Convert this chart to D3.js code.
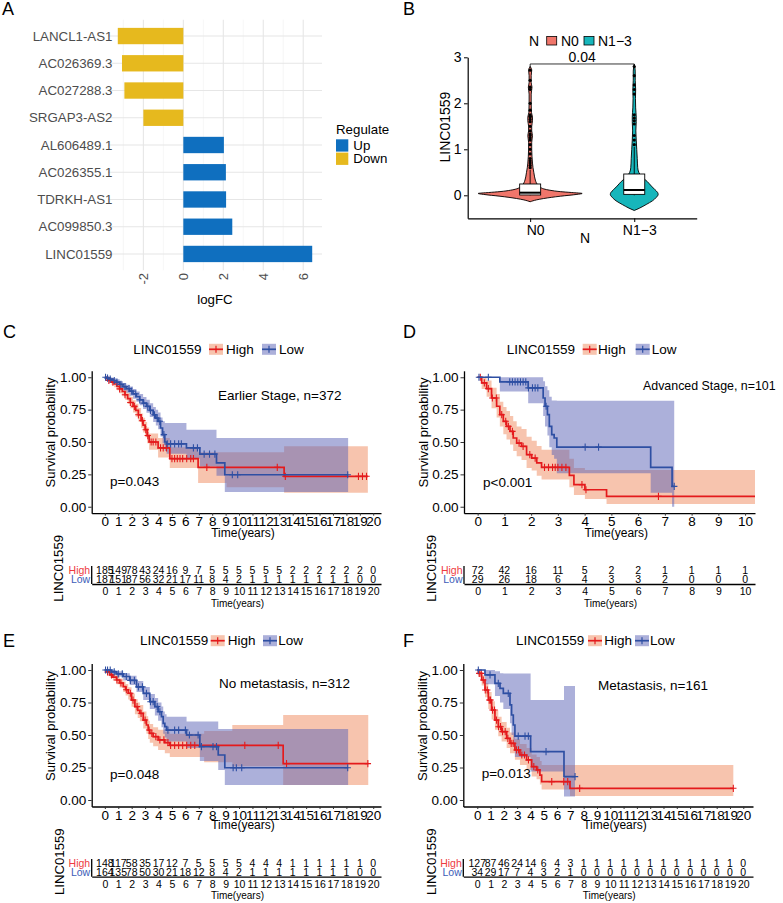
<!DOCTYPE html>
<html><head><meta charset="utf-8">
<script src="https://cdn.jsdelivr.net/npm/d3@7/dist/d3.min.js"></script>
<style>
html,body{margin:0;padding:0;background:#fff;}
svg text{font-family:"Liberation Sans",Arial,Helvetica,sans-serif;}
</style></head><body>
<svg id="fig" width="783" height="903" xmlns="http://www.w3.org/2000/svg"></svg>
<script>
// ================= DATA =================
// Panel A
const genes = ["LANCL1-AS1","AC026369.3","AC027288.3","SRGAP3-AS2","AL606489.1","AC026355.1","TDRKH-AS1","AC099850.3","LINC01559"];
const logFC = [-3.28,-3.07,-2.95,-2.0,2.03,2.13,2.14,2.45,6.45];
const regulate = ["Down","Down","Down","Down","Up","Up","Up","Up","Up"];
const logFCTicks = [-2,0,2,4,6];
const logFCMinor = [-3,-1,1,3,5];

// Panel B : [value, relative density]
const nGroups = ["N0","N1\u22123"];
const violinN0 = [[-0.14,0],[-0.1,0.12],[-0.07,0.26],[-0.02,0.58],[0.02,0.9],[0.04,1.0],[0.06,0.8],[0.08,0.58],[0.11,0.38],[0.14,0.26],[0.18,0.19],[0.22,0.15],[0.27,0.12],[0.33,0.1],[0.4,0.085],[0.5,0.07],[0.6,0.055],[0.7,0.045],[0.85,0.035],[1.0,0.03],[1.15,0.03],[1.3,0.045],[1.4,0.03],[1.5,0.03],[1.62,0.045],[1.7,0.045],[1.8,0.025],[2.0,0.02],[2.2,0.02],[2.35,0.035],[2.45,0.02],[2.6,0.02],[2.72,0.03],[2.8,0]];
const violinN13 = [[-0.33,0],[-0.28,0.1],[-0.2,0.23],[-0.12,0.35],[-0.05,0.42],[0.02,0.46],[0.06,0.45],[0.12,0.4],[0.2,0.33],[0.3,0.25],[0.4,0.15],[0.5,0.087],[0.6,0.067],[0.8,0.058],[1.0,0.048],[1.2,0.038],[1.4,0.031],[1.6,0.038],[1.7,0.038],[1.9,0.027],[2.1,0.023],[2.3,0.027],[2.5,0.019],[2.7,0.019],[2.85,0]];
// [lowerWhisker, q1, median, q3, upperWhisker]
const boxN0 = [0, 0.007, 0.057, 0.246, 0.55];
const boxN13 = [0, 0.02, 0.115, 0.463, 1.05];
const outN0 = [0.6,0.65,0.7,0.75,0.8,0.9,1.0,1.1,1.2,1.25,1.3,1.33,1.4,1.5,1.6,1.65,1.7,1.72,1.75,1.85,2.0,2.3,2.35,2.5,2.72];
const outN13 = [1.1,1.2,1.3,1.55,1.62,1.68,1.75,2.2,2.3,2.4,2.6,2.8];
const pValueB = "0.04";

// KM curves: [time, surv, lower, upper]
const cHigh = [[0,1,1,1],[0.15,0.989,0.975,0.999],[0.3,0.976,0.958,0.993],[0.5,0.962,0.94,0.984],[0.7,0.948,0.922,0.974],[0.9,0.93,0.9,0.96],[1.1,0.91,0.877,0.943],[1.3,0.89,0.853,0.927],[1.5,0.865,0.826,0.905],[1.7,0.835,0.793,0.878],[1.9,0.805,0.76,0.85],[2.1,0.775,0.728,0.822],[2.3,0.745,0.696,0.795],[2.5,0.71,0.658,0.763],[2.7,0.665,0.61,0.72],[2.85,0.63,0.573,0.687],[3.0,0.595,0.536,0.655],[3.15,0.55,0.49,0.612],[3.3,0.5,0.44,0.565],[3.97,0.454,0.38,0.53],[4.84,0.371,0.3,0.46],[6.95,0.304,0.183,0.42],[9.07,0.304,0.15,0.42],[13.36,0.235,0.108,0.467]];
const cHighEnd = 19.6;
const cLow = [[0,1,1,1],[0.2,0.993,0.982,1],[0.4,0.985,0.97,0.998],[0.6,0.975,0.956,0.993],[0.85,0.962,0.94,0.984],[1.1,0.945,0.92,0.97],[1.35,0.928,0.9,0.956],[1.6,0.912,0.88,0.943],[1.85,0.893,0.858,0.928],[2.1,0.872,0.834,0.91],[2.35,0.85,0.81,0.89],[2.6,0.826,0.783,0.87],[2.85,0.8,0.754,0.848],[3.1,0.775,0.726,0.826],[3.35,0.745,0.693,0.8],[3.6,0.71,0.655,0.77],[3.8,0.685,0.627,0.75],[3.97,0.66,0.598,0.728],[4.15,0.608,0.543,0.69],[4.3,0.557,0.49,0.66],[4.47,0.5,0.43,0.647],[4.6,0.485,0.41,0.647],[6.08,0.454,0.37,0.595],[7.08,0.407,0.31,0.595],[8.32,0.338,0.24,0.531],[8.94,0.247,0.113,0.531]];
const cLowEnd = 18.13;
const cHighCens = [0.3,0.6,1.1,1.5,1.9,2.2,2.5,2.8,3.05,3.2,3.45,3.6,3.8,4.15,4.35,4.6,5.0,5.2,5.4,5.6,5.8,6.1,6.4,6.6,7.6,12.85,13.45,18.9,19.2,19.5];
const cLowCens = [0.05,0.2,0.4,0.7,0.9,1.2,1.5,1.8,2.0,2.3,2.6,2.9,3.2,3.4,3.7,3.9,4.1,4.4,4.65,4.9,5.2,5.5,5.7,6.6,6.9,7.4,7.8,8.2,9.5,9.9,18.1];
const cRiskHigh = [185,149,78,43,24,16,9,7,5,5,5,5,5,5,2,2,2,2,2,2,0];
const cRiskLow  = [187,151,87,56,32,21,17,11,8,4,2,1,1,1,1,1,1,1,1,0,0];

const dHigh = [[0,1,1,1],[0.15,0.956,0.91,1],[0.335,0.912,0.85,0.975],[0.52,0.84,0.76,0.92],[0.71,0.776,0.69,0.87],[0.83,0.711,0.62,0.81],[0.96,0.66,0.56,0.77],[1.08,0.621,0.52,0.74],[1.21,0.582,0.48,0.7],[1.33,0.531,0.43,0.66],[1.46,0.492,0.39,0.62],[1.64,0.466,0.36,0.6],[1.83,0.402,0.3,0.54],[2.02,0.376,0.28,0.51],[2.21,0.338,0.24,0.47],[2.39,0.304,0.21,0.44],[3.43,0.242,0.15,0.37],[3.6,0.17,0.09,0.3],[4.01,0.131,0.06,0.284],[4.82,0.08,0.021,0.284]];
const dHighEnd = 10.37;
const dLow = [[0,1,1,1],[0.83,0.964,0.89,1],[1.89,0.918,0.8,1],[2.45,0.84,0.7,0.97],[2.52,0.776,0.62,0.93],[2.61,0.711,0.55,0.9],[2.68,0.621,0.46,0.85],[2.77,0.557,0.4,0.82],[2.86,0.531,0.37,0.82],[2.96,0.461,0.258,0.819],[6.47,0.304,0.108,0.819],[7.27,0.157,0,0.819]];
const dLowEnd = 7.35;
const dHighCens = [0.1,0.25,0.4,0.55,0.7,0.9,1.05,1.15,1.3,1.55,1.7,1.95,2.15,2.5,2.65,2.8,2.9,3.0,3.15,3.3,3.9,4.05,6.76];
const dLowCens = [0.05,0.4,1.2,1.3,1.4,1.5,1.6,1.7,1.8,1.9,2.05,2.15,2.25,2.56,4.02,4.52,7.35];
const dRiskHigh = [72,42,16,11,5,2,2,1,1,1,1];
const dRiskLow  = [29,26,18,6,4,3,3,2,0,0,0];

const eHigh = [[0,1,1,1],[0.15,0.985,0.97,0.998],[0.37,0.962,0.94,0.985],[0.6,0.945,0.92,0.97],[0.87,0.923,0.89,0.955],[1.1,0.9,0.865,0.935],[1.37,0.872,0.83,0.912],[1.55,0.848,0.803,0.892],[1.74,0.821,0.773,0.868],[1.99,0.769,0.717,0.82],[2.24,0.718,0.66,0.775],[2.45,0.69,0.63,0.75],[2.61,0.667,0.605,0.73],[2.86,0.615,0.55,0.68],[3.1,0.577,0.51,0.645],[3.23,0.538,0.47,0.61],[3.35,0.513,0.44,0.585],[3.6,0.487,0.413,0.56],[3.97,0.462,0.385,0.54],[4.47,0.441,0.36,0.525],[4.84,0.42,0.33,0.51],[7.4,0.42,0.29,0.53],[9.5,0.42,0.26,0.577],[13.29,0.28,0.115,0.654]];
const eHighEnd = 19.63;
const eLow = [[0,1,1,1],[0.5,0.985,0.97,1],[0.87,0.97,0.95,0.99],[1.37,0.95,0.92,0.975],[1.86,0.92,0.885,0.955],[2.36,0.87,0.83,0.915],[2.86,0.82,0.77,0.87],[3.35,0.756,0.7,0.815],[3.73,0.718,0.65,0.785],[3.97,0.679,0.61,0.75],[4.22,0.641,0.56,0.72],[4.35,0.59,0.51,0.68],[4.47,0.564,0.48,0.66],[4.6,0.538,0.45,0.64],[6.09,0.5,0.4,0.603],[7.08,0.41,0.3,0.603],[8.45,0.346,0.23,0.546],[8.94,0.248,0.115,0.546]];
const eLowEnd = 18.13;
const eHighCens = [0.2,0.5,0.9,1.2,1.6,1.9,2.1,2.4,2.7,3.0,3.3,3.5,3.8,4.1,4.4,4.7,4.9,5.2,5.5,5.8,6.1,6.4,6.7,10.43,12.92,13.54,19.6];
const eLowCens = [0.05,0.2,0.4,0.7,1.0,1.3,1.6,1.9,2.2,2.5,2.8,3.1,3.4,3.6,3.9,4.1,4.7,5.2,5.5,6.0,6.3,6.95,7.2,8.06,8.32,9.56,9.8,10.2,18.1];
const eRiskHigh = [148,117,58,35,17,12,7,5,5,5,5,4,4,4,1,1,1,1,1,1,0];
const eRiskLow  = [164,135,78,50,30,21,18,12,8,4,2,1,1,1,1,1,1,1,1,0,0];

const fHigh = [[0,1,1,1],[0.08,0.974,0.95,1],[0.33,0.923,0.88,0.96],[0.58,0.846,0.79,0.9],[0.83,0.769,0.7,0.83],[1.08,0.692,0.62,0.76],[1.33,0.615,0.54,0.69],[1.58,0.564,0.49,0.64],[1.83,0.526,0.45,0.6],[2.21,0.474,0.4,0.555],[2.46,0.436,0.36,0.52],[2.83,0.385,0.31,0.47],[3.21,0.346,0.27,0.43],[3.71,0.308,0.23,0.4],[4.09,0.256,0.18,0.35],[4.46,0.231,0.16,0.33],[4.71,0.192,0.12,0.3],[4.84,0.141,0.08,0.27],[6.97,0.09,0.03,0.27]];
const fHighEnd = 19.25;
const fLow = [[0,1,1,1],[0.58,0.962,0.89,1],[1.33,0.897,0.8,0.99],[1.71,0.859,0.75,0.975],[1.96,0.82,0.7,0.974],[2.46,0.731,0.59,0.974],[2.58,0.654,0.5,0.974],[2.71,0.577,0.42,0.974],[2.83,0.492,0.33,0.974],[4.01,0.372,0.22,0.77],[6.52,0.18,0.026,0.877]];
const fLowEnd = 7.35;
const fHighCens = [0.15,0.3,0.45,0.6,0.75,0.9,1.0,1.15,1.3,1.45,1.6,1.75,1.9,2.1,2.3,2.55,2.7,2.95,3.1,3.35,3.55,3.85,4.25,4.55,5.6,6.5,6.8,7.7,19.25];
const fLowCens = [0.08,0.96,1.58,2.33,3.08,3.59,3.84,5.17,7.35];
const fRiskHigh = [127,87,46,24,14,6,4,3,1,1,1,1,1,1,1,1,1,1,1,1,0];
const fRiskLow  = [34,29,17,7,4,3,2,1,0,0,0,0,0,0,0,0,0,0,0,0,0];

const survTicks = [0,0.25,0.5,0.75,1];

// ================= STYLE =================
const RED = "#E41A1C", BLUE = "#2E4FA3";
const BAND_RED = "#F08A5E", BAND_BLUE = "#5A62B5", BAND_OP = 0.5;
const TABLE_RED = "#EE3B3F", TABLE_BLUE = "#3D5DB8";
const regColor = {"Up":"#0F6FBF","Down":"#E6B91E"};

const svg = d3.select("#fig");
function addText(sel, x, y, str, o = {}) {
  const t = sel.append("text").attr("x", x).attr("y", y).text(str)
    .attr("font-size", o.size || 13).attr("fill", o.fill || "#000")
    .attr("text-anchor", o.anchor || "start");
  if (o.rotate) t.attr("transform", `rotate(${o.rotate},${x},${y})`);
  if (o.dy) t.attr("dy", o.dy);
  return t;
}

// panel letters
[["A",2,15],["B",403,15],["C",3,338],["D",403,338],["E",3,646.5],["F",403,646.5]]
  .forEach(([l,x,y]) => addText(svg, x, y, l, {size:18}));

// ================= PANEL A =================
{
  const g = svg.append("g");
  const x = d3.scaleLinear().domain([-3.77, 6.94]).range([108, 322]);
  const y = d3.scalePoint().domain(genes).range([19.7, 270.3]).padding(0.6);
  const step = y.step();
  const [top, bot] = [19.7, 270.3];
  g.selectAll(".gmin").data(logFCMinor).join("line")
    .attr("x1", d => x(d)).attr("x2", d => x(d)).attr("y1", top).attr("y2", bot)
    .attr("stroke", "#F0F0F0").attr("stroke-width", 0.6);
  g.selectAll(".gmaj").data(logFCTicks).join("line")
    .attr("x1", d => x(d)).attr("x2", d => x(d)).attr("y1", top).attr("y2", bot)
    .attr("stroke", "#E6E6E6").attr("stroke-width", 1.1);
  g.selectAll(".gh").data(genes).join("line")
    .attr("x1", x.range()[0]).attr("x2", x.range()[1]).attr("y1", d => y(d)).attr("y2", d => y(d))
    .attr("stroke", "#E6E6E6").attr("stroke-width", 1.1);
  const rows = genes.map((gn, i) => ({gn, v: logFC[i], r: regulate[i]}));
  g.selectAll("rect.bar").data(rows).join("rect")
    .attr("x", d => x(Math.min(0, d.v))).attr("width", d => Math.abs(x(d.v) - x(0)))
    .attr("y", d => y(d.gn) - step * 0.3).attr("height", step * 0.6)
    .attr("fill", d => regColor[d.r]);
  genes.forEach(gn => addText(g, 112.5, y(gn), gn, {size:13.3, fill:"#4D4D4D", anchor:"end", dy:"0.35em"}));
  logFCTicks.forEach(t => addText(g, x(t), 273, String(t), {size:13, fill:"#4D4D4D", anchor:"end", rotate:-90, dy:"0.35em"}));
  addText(g, (x.range()[0] + x.range()[1]) / 2, 304, "logFC", {size:13.3, anchor:"middle"});
  addText(g, 336, 134, "Regulate", {size:13.3});
  ["Up","Down"].forEach((k, i) => {
    g.append("rect").attr("x", 336).attr("y", 139.3 + i * 13.3).attr("width", 12.3).attr("height", 12.3).attr("fill", regColor[k]);
    addText(g, 353.3, 145.5 + i * 13.3, k, {size:13.3, dy:"0.35em"});
  });
}

// ================= PANEL B =================
{
  const g = svg.append("g");
  const x = d3.scalePoint().domain(nGroups).range([467.7, 696.7]).padding(0.6);
  const y = d3.scaleLinear().domain([-0.5, 3]).range([218.3, 57.3]);
  const w = d3.scaleLinear().domain([0, 1]).range([0, 52]);
  const fills = {[nGroups[0]]:"#F0766B", [nGroups[1]]:"#17B6BB"};
  const viol = {[nGroups[0]]:violinN0, [nGroups[1]]:violinN13};
  const boxes = {[nGroups[0]]:boxN0, [nGroups[1]]:boxN13};
  const outs = {[nGroups[0]]:outN0, [nGroups[1]]:outN13};
  nGroups.forEach(gr => {
    const cx = x(gr);
    const area = d3.area().curve(d3.curveMonotoneY)
      .y(d => y(d[0])).x0(d => cx - w(d[1])).x1(d => cx + w(d[1]));
    g.append("path").attr("d", area(viol[gr])).attr("fill", fills[gr]).attr("stroke", "#000").attr("stroke-width", 0.9);
    const b = boxes[gr];
    g.append("line").attr("x1", cx).attr("x2", cx).attr("y1", y(b[3])).attr("y2", y(b[4])).attr("stroke", "#000").attr("stroke-width", 0.9);
    g.append("line").attr("x1", cx).attr("x2", cx).attr("y1", y(b[0])).attr("y2", y(b[1])).attr("stroke", "#000").attr("stroke-width", 0.9);
    outs[gr].forEach(v => g.append("circle").attr("cx", cx).attr("cy", y(v)).attr("r", 1.6).attr("fill", "#000"));
    g.append("rect").attr("x", cx - 10.5).attr("width", 21).attr("y", y(b[3])).attr("height", y(b[1]) - y(b[3]))
      .attr("fill", "#fff").attr("stroke", "#000").attr("stroke-width", 0.9);
    g.append("line").attr("x1", cx - 10.5).attr("x2", cx + 10.5).attr("y1", y(b[2])).attr("y2", y(b[2])).attr("stroke", "#000").attr("stroke-width", 2);
  });
  // bracket
  const by = y(2.855);
  g.append("path").attr("d", `M${x(nGroups[0])},${by + 4}V${by}H${x(nGroups[1])}V${by + 4}`)
    .attr("fill", "none").attr("stroke", "#000").attr("stroke-width", 0.8);
  addText(g, (x(nGroups[0]) + x(nGroups[1])) / 2, by - 1.5, pValueB, {size:14, anchor:"middle"});
  // axes
  const ay = g.append("g").attr("transform", "translate(467.7,0)")
    .call(d3.axisLeft(y).tickValues([0,1,2,3]).tickFormat(d3.format("d")).tickSize(3.7).tickSizeOuter(0).tickPadding(2.5));
  const ax = g.append("g").attr("transform", "translate(0,218.3)")
    .call(d3.axisBottom(x).tickSize(3.7).tickSizeOuter(0).tickPadding(3));
  [ay, ax].forEach(a => {
    a.select(".domain").attr("stroke", "#000").attr("stroke-width", 1.2);
    a.selectAll(".tick line").attr("stroke", "#000");
    a.selectAll("text").attr("font-size", 14).attr("fill", "#000");
  });
  ax.selectAll("text").attr("dx", 5);
  addText(g, 450, 127, "LINC01559", {size:14, anchor:"middle", rotate:-90});
  addText(g, 585, 243, "N", {size:14, anchor:"middle"});
  // legend
  addText(g, 529, 46, "N", {size:14});
  g.append("rect").attr("x", 546.7).attr("y", 36.5).attr("width", 10).attr("height", 8.5).attr("fill", fills[nGroups[0]]).attr("stroke", "#000").attr("stroke-width", 0.8);
  addText(g, 561, 46, nGroups[0], {size:14});
  g.append("rect").attr("x", 584).attr("y", 36.5).attr("width", 10).attr("height", 8.5).attr("fill", fills[nGroups[1]]).attr("stroke", "#000").attr("stroke-width", 0.8);
  addText(g, 598, 46, nGroups[1], {size:14});
}

// ================= KM PANELS =================
function drawKM(P) {
  const g = svg.append("g");
  const x = d3.scaleLinear().domain(P.xdom).range(P.xr);
  const y = d3.scaleLinear().domain([-0.05, 1.05]).range(P.yr);
  const ticks = d3.range(0, P.maxT + 1);
  const groups = [
    {data:P.high, end:P.highEnd, cens:P.highCens, line:RED, band:BAND_RED},
    {data:P.low, end:P.lowEnd, cens:P.lowCens, line:BLUE, band:BAND_BLUE}];
  const cid = "clip" + P.id;
  g.append("clipPath").attr("id", cid).append("rect")
    .attr("x", P.xr[0]).attr("y", P.yr[1] - 5).attr("width", P.xr[1] - P.xr[0] + 1).attr("height", P.yr[0] - P.yr[1] + 5);
  const pg = g.append("g").attr("clip-path", `url(#${cid})`);
  groups.forEach(G => {
    const last = G.data[G.data.length - 1];
    G.pts = G.data.concat([[G.end, last[1], last[2], last[3]]]);
    pg.append("path")
      .attr("d", d3.area().curve(d3.curveStepAfter).x(d => x(d[0])).y0(d => y(d[2])).y1(d => y(d[3]))(G.pts))
      .attr("fill", G.band).attr("fill-opacity", BAND_OP);
  });
  groups.forEach(G => {
    pg.append("path")
      .attr("d", d3.line().curve(d3.curveStepAfter).x(d => x(d[0])).y(d => y(d[1]))(G.pts))
      .attr("fill", "none").attr("stroke", G.line).attr("stroke-width", 1.7);
    G.cens.forEach(t => {
      let s = G.data[0][1];
      G.data.forEach(d => { if (d[0] <= t) s = d[1]; });
      const cx = x(t), cy = y(s);
      pg.append("path").attr("d", `M${cx - 3.2},${cy}H${cx + 3.2}M${cx},${cy - 3.6}V${cy + 3.6}`)
        .attr("stroke", G.line).attr("stroke-width", 1.1);
    });
  });
  // axes
  const ay = g.append("g").attr("transform", `translate(${P.xr[0]},0)`)
    .call(d3.axisLeft(y).tickValues(survTicks).tickFormat(d3.format(".2f")).tickSize(3.5).tickSizeOuter(0).tickPadding(2));
  const ax = g.append("g").attr("transform", `translate(0,${P.yr[0]})`)
    .call(d3.axisBottom(x).tickValues(ticks).tickFormat(d3.format("d")).tickSize(2.5).tickSizeOuter(0).tickPadding(1));
  [ay, ax].forEach(a => {
    a.select(".domain").attr("stroke", "#000").attr("stroke-width", 1.3);
    a.selectAll(".tick line").attr("stroke", "#333");
    a.selectAll("text").attr("font-size", 13.5).attr("fill", "#000");
  });
  addText(g, P.ylabX, P.ylabY, "Survival probability", {size:13.1, anchor:"middle", rotate:-90});
  addText(g, P.xlabX, P.xlabY, "Time(years)", {size:12, anchor:"middle"});
  addText(g, P.annot[1], P.annot[2], P.annot[0], {size:P.annot[3] || 13.5, dy:"0.35em"});
  addText(g, P.pval[1], P.pval[2], P.pval[0], {size:13.5, dy:"0.35em"});
  // legend
  const L = P.legend;
  addText(g, L.labelX, L.y, "LINC01559", {size:13.5, dy:"0.35em"});
  [["High", L.highKey, L.highText, RED, BAND_RED], ["Low", L.lowKey, L.lowText, BLUE, BAND_BLUE]].forEach(([n, kx, tx, lc, bc]) => {
    g.append("rect").attr("x", kx).attr("y", L.y - 5.5).attr("width", 14).attr("height", 11).attr("fill", bc).attr("fill-opacity", BAND_OP);
    g.append("line").attr("x1", kx).attr("x2", kx + 14).attr("y1", L.y).attr("y2", L.y).attr("stroke", lc).attr("stroke-width", 1.7);
    g.append("line").attr("x1", kx + 7).attr("x2", kx + 7).attr("y1", L.y - 3.5).attr("y2", L.y + 3.5).attr("stroke", lc).attr("stroke-width", 1.2);
    addText(g, tx, L.y, n, {size:13.5, dy:"0.35em"});
  });
  // risk table
  const T = P.table;
  const ry = d3.scalePoint().domain(["High","Low"]).range(T.rows);
  addText(g, T.titleX, T.titleY, "LINC01559", {size:13.2, anchor:"middle", rotate:-90});
  addText(g, P.xr[0] - 1.5, ry("High"), "High", {size:10.5, anchor:"end", fill:TABLE_RED, dy:"0.35em"});
  addText(g, P.xr[0] - 1.5, ry("Low"), "Low", {size:10.5, anchor:"end", fill:TABLE_BLUE, dy:"0.35em"});
  P.riskHigh.forEach((n, i) => addText(g, x(ticks[i]), ry("High"), n, {size:10.5, anchor:"middle", dy:"0.35em"}));
  P.riskLow.forEach((n, i) => addText(g, x(ticks[i]), ry("Low"), n, {size:10.5, anchor:"middle", dy:"0.35em"}));
  const tx = g.append("g").attr("transform", `translate(0,${T.axisY})`)
    .call(d3.axisBottom(x).tickValues(ticks).tickFormat(d3.format("d")).tickSize(0).tickSizeOuter(0).tickPadding(3.5));
  tx.select(".domain").attr("stroke", "#000").attr("stroke-width", 1.3);
  tx.selectAll("text").attr("font-size", 10.5).attr("fill", "#000");
  g.append("line").attr("x1", P.xr[0]).attr("x2", P.xr[0]).attr("y1", T.top).attr("y2", T.axisY).attr("stroke", "#000").attr("stroke-width", 1.3);
  addText(g, T.xlabX, T.axisY + 22.6, "Time(years)", {size:10, anchor:"middle"});
}

drawKM({id:"C", xdom:[-0.98, 20.58], xr:[91.7, 381], yr:[513.2, 370.8], maxT:20,
  high:cHigh, highEnd:cHighEnd, highCens:cHighCens, low:cLow, lowEnd:cLowEnd, lowCens:cLowCens,
  riskHigh:cRiskHigh, riskLow:cRiskLow,
  ylabX:55, ylabY:432.5, xlabX:243, xlabY:537.3,
  annot:["Earlier Stage, n=372", 218, 395.7], pval:["p=0.043", 110, 481.7],
  legend:{y:349.3, labelX:133.3, highKey:209, highText:226, lowKey:262, lowText:279},
  table:{rows:[570, 579.3], axisY:584, top:566, titleX:63.5, titleY:568.3, xlabX:237.5}});

drawKM({id:"D", xdom:[-0.51, 10.37], xr:[464, 755], yr:[513.2, 370.8], maxT:10,
  high:dHigh, highEnd:dHighEnd, highCens:dHighCens, low:dLow, lowEnd:dLowEnd, lowCens:dLowCens,
  riskHigh:dRiskHigh, riskLow:dRiskLow,
  ylabX:428, ylabY:432.5, xlabX:616.3, xlabY:537.3,
  annot:["Advanced Stage, n=101", 643, 386, 12.4], pval:["p<0.001", 483, 482.7],
  legend:{y:349.3, labelX:506.7, highKey:582.7, highText:598, lowKey:635.7, lowText:651.7},
  table:{rows:[570, 579.3], axisY:584, top:566, titleX:436, titleY:568.3, xlabX:610.5}});

drawKM({id:"E", xdom:[-0.98, 20.58], xr:[91.7, 381], yr:[806.5, 663.5], maxT:20,
  high:eHigh, highEnd:eHighEnd, highCens:eHighCens, low:eLow, lowEnd:eLowEnd, lowCens:eLowCens,
  riskHigh:eRiskHigh, riskLow:eRiskLow,
  ylabX:55, ylabY:726, xlabX:243, xlabY:829.3,
  annot:["No metastasis, n=312", 219, 683], pval:["p=0.048", 110, 774],
  legend:{y:640.7, labelX:140, highKey:210.7, highText:227.7, lowKey:263, lowText:278.3},
  table:{rows:[863.3, 872.3], axisY:876.7, top:859, titleX:64.5, titleY:861.7, xlabX:237.5}});

drawKM({id:"F", xdom:[-1.05, 20.73], xr:[463.3, 753], yr:[806.5, 663.5], maxT:20,
  high:fHigh, highEnd:fHighEnd, highCens:fHighCens, low:fLow, lowEnd:fLowEnd, lowCens:fLowCens,
  riskHigh:fRiskHigh, riskLow:fRiskLow,
  ylabX:426.5, ylabY:726, xlabX:615, xlabY:829.3,
  annot:["Metastasis, n=161", 598, 685.7], pval:["p=0.013", 481.7, 773.3],
  legend:{y:640.7, labelX:516, highKey:588, highText:604.3, lowKey:635, lowText:650},
  table:{rows:[863.3, 872.3], axisY:876.7, top:859, titleX:436, titleY:861.7, xlabX:609.2}});
</script>
</body></html>
